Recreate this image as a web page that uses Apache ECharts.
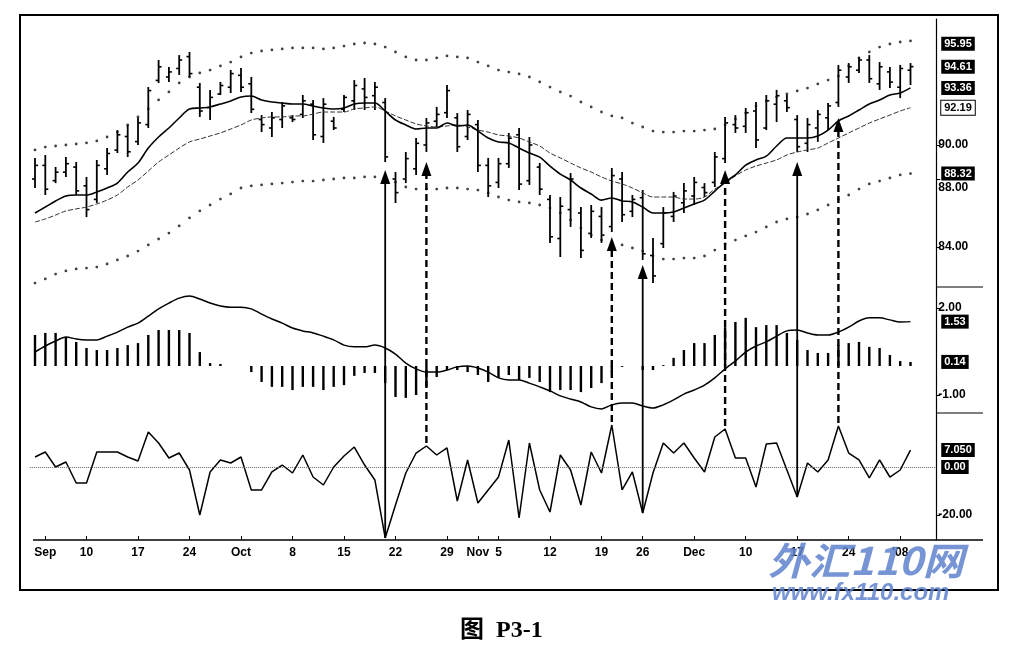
<!DOCTYPE html>
<html><head><meta charset="utf-8">
<script src="https://cdn.jsdelivr.net/npm/echarts@6/dist/echarts.min.js"></script>
<style>html,body{margin:0;padding:0;background:#fff}#c{width:1013px;height:656px}</style>
</head><body><div id="c"></div>
<script>
// trading days (Aug 31 2007 .. Jan 7 2008); last two have no data
const dates = ['8/31','9/4','9/5','9/6','9/7','9/10','9/11','9/12','9/13','9/14','9/17','9/18','9/19','9/20','9/21',
'9/24','9/25','9/26','9/27','9/28','10/1','10/2','10/3','10/4','10/5','10/8','10/9','10/10','10/11','10/12',
'10/15','10/16','10/17','10/18','10/19','10/22','10/23','10/24','10/25','10/26','10/29','10/30','10/31','11/1','11/2',
'11/5','11/6','11/7','11/8','11/9','11/12','11/13','11/14','11/15','11/16','11/19','11/20','11/21','11/23',
'11/26','11/27','11/28','11/29','11/30','12/3','12/4','12/5','12/6','12/7','12/10','12/11','12/12','12/13','12/14',
'12/17','12/18','12/19','12/20','12/21','12/24','12/26','12/27','12/28','12/31','1/2','1/3','1/4','1/7'];
const tickIdx = [1,5,10,15,20,25,30,35,40,43,45,50,55,59,64,69,74,79,84];
const tickText = ['Sep','10','17','24','Oct','8','15','22','29','Nov','5','12','19','26','Dec','10','17','24',"'08"];

const barOpen = [88.0,88.8,87.9,88.4,88.7,87.6,86.8,88.6,89.7,90.5,90.2,91.2,93.8,94.0,94.5,95.2,93.4,92.2,93.0,93.4,94.1,93.6,91.5,91.0,91.5,91.6,91.8,92.4,90.5,91.4,92.1,92.6,93.3,92.9,92.5,88.0,88.0,88.6,90.0,91.4,91.9,91.6,90.5,91.2,88.8,87.8,88.9,90.6,87.9,88.7,86.8,84.5,86.2,86.0,84.8,85.8,85.2,88.0,86.1,86.9,83.5,84.2,85.8,86.6,87.0,87.5,87.8,89.2,91.2,91.1,92.0,91.0,92.4,92.6,91.5,90.1,91.0,91.6,92.5,94.0,94.4,95.0,93.6,94.3,93.4,94.4];
const barHigh = [89.24,89.41,88.71,89.29,89.00,88.12,89.12,89.82,90.88,91.18,91.59,93.41,95.00,94.59,95.29,95.47,93.65,93.24,93.71,94.41,94.53,94.00,91.76,91.94,92.53,91.76,92.94,92.65,92.76,91.65,92.94,93.82,93.94,93.71,92.76,88.41,89.59,90.41,91.59,92.24,93.53,91.88,92.06,91.47,89.24,89.24,90.71,91.00,90.47,88.94,87.06,86.94,88.35,86.35,86.47,86.35,88.65,88.41,87.06,87.35,84.53,86.35,87.24,87.76,88.12,87.76,89.59,91.65,91.76,92.18,92.53,92.94,93.24,92.94,91.76,91.59,92.06,92.47,94.71,94.82,95.18,95.29,94.88,94.59,94.71,94.82];
const barLow = [87.47,87.06,87.76,88.12,87.06,85.76,86.59,88.24,89.53,89.29,90.00,91.00,93.65,93.71,94.12,94.00,91.65,91.47,92.94,93.06,93.12,91.88,90.76,90.47,91.00,91.35,91.59,90.29,90.12,90.88,91.94,92.06,92.06,92.06,89.00,86.59,87.76,88.24,89.59,91.06,91.59,89.59,90.29,88.41,86.94,87.47,88.65,87.35,87.65,87.06,84.24,83.41,85.18,83.35,84.53,84.24,84.88,85.47,85.76,83.24,81.88,83.94,85.47,86.00,86.47,86.94,87.53,88.94,90.71,90.71,89.82,90.88,91.35,91.94,89.59,89.59,90.18,90.88,92.24,93.65,94.24,93.65,93.24,93.35,92.76,93.53];
const barClose = [88.8,87.4,88.4,88.9,87.3,86.2,88.8,89.5,90.6,89.6,91.3,93.2,94.6,94.3,95.0,94.2,92.0,92.8,93.5,94.2,93.4,92.1,91.2,91.6,92.3,91.5,92.6,90.6,92.4,91.0,92.8,93.5,92.8,93.4,89.3,87.2,89.2,90.1,91.3,91.8,93.2,89.9,91.8,88.8,87.6,88.9,90.4,87.7,90.0,87.4,84.6,86.4,88.0,83.8,86.1,84.7,88.2,85.9,86.8,83.6,82.3,86.0,87.0,87.3,87.8,87.2,89.3,91.3,91.0,91.9,90.3,92.6,92.9,92.2,89.9,91.2,91.8,92.3,94.4,94.6,95.0,93.9,94.6,93.7,94.5,94.61];
const maFast = [86.00,86.35,86.71,87.00,87.06,87.06,87.24,87.47,87.76,88.41,88.94,89.82,90.47,91.00,91.59,92.12,92.18,92.24,92.41,92.59,92.82,92.88,92.65,92.53,92.47,92.41,92.41,92.29,92.18,92.12,92.18,92.41,92.47,92.47,92.00,91.47,91.18,90.94,91.00,91.00,91.29,91.12,91.18,90.82,90.41,90.18,90.12,89.82,89.53,89.29,88.76,88.29,87.94,87.47,87.12,86.76,86.88,86.71,86.65,86.35,86.00,86.00,86.06,86.29,86.53,86.76,87.29,87.82,88.24,88.82,89.12,89.35,89.94,90.41,90.41,90.41,90.53,90.88,91.41,91.71,92.06,92.41,92.65,92.94,93.06,93.36];
const maSlow = [85.47,85.65,85.88,86.12,86.24,86.35,86.53,86.76,87.06,87.53,87.94,88.47,89.00,89.41,89.82,90.18,90.35,90.53,90.71,90.94,91.18,91.47,91.59,91.65,91.65,91.71,91.71,91.82,91.94,91.94,91.94,92.12,92.18,92.24,92.00,91.71,91.47,91.24,91.12,91.06,91.12,91.18,91.06,90.88,90.76,90.59,90.53,90.41,90.18,89.94,89.53,89.24,88.94,88.65,88.41,88.12,87.88,87.71,87.47,87.18,86.94,86.94,86.94,86.82,86.82,86.94,87.41,87.76,88.18,88.53,88.76,88.94,89.12,89.41,89.59,89.71,89.82,90.12,90.41,90.71,91.00,91.29,91.53,91.76,92.00,92.19];
const envUpper = [89.71,89.88,89.94,90.00,90.06,90.12,90.24,90.47,90.76,91.18,91.65,92.12,92.65,93.12,93.65,94.00,94.24,94.41,94.65,94.88,95.18,95.41,95.53,95.59,95.65,95.71,95.71,95.71,95.65,95.71,95.82,95.94,96.00,95.94,95.76,95.47,95.18,95.00,95.00,95.12,95.24,95.18,95.12,94.88,94.65,94.41,94.29,94.18,94.00,93.71,93.41,93.12,92.88,92.53,92.24,91.94,91.71,91.59,91.29,91.06,90.82,90.76,90.76,90.82,90.82,90.88,90.94,91.18,91.53,91.88,92.29,92.59,92.82,93.00,93.18,93.35,93.59,93.82,94.06,94.65,95.12,95.47,95.76,95.94,96.06,96.12];
const envLower = [81.88,82.12,82.41,82.59,82.71,82.76,82.82,83.00,83.24,83.47,83.76,84.12,84.47,84.82,85.24,85.71,86.12,86.47,86.82,87.12,87.47,87.59,87.65,87.71,87.76,87.82,87.88,87.88,87.94,88.00,88.06,88.06,88.12,88.12,88.06,87.82,87.53,87.41,87.41,87.41,87.47,87.47,87.41,87.35,87.18,86.94,86.76,86.65,86.59,86.47,86.29,86.00,85.59,85.12,84.71,84.41,84.18,84.12,83.94,83.76,83.47,83.29,83.29,83.35,83.35,83.47,83.82,84.18,84.41,84.65,84.88,85.18,85.47,85.65,85.76,85.94,86.18,86.47,86.82,87.06,87.41,87.71,87.88,88.06,88.24,88.32];
const macdLine = [0.48,0.69,0.86,1.00,0.93,0.90,0.90,1.03,1.17,1.34,1.48,1.72,1.97,2.17,2.34,2.41,2.31,2.17,2.07,2.03,2.03,1.97,1.79,1.62,1.48,1.31,1.21,1.14,1.03,0.90,0.72,0.66,0.66,0.72,0.62,0.41,0.10,-0.10,-0.21,-0.21,-0.14,-0.03,0.00,-0.07,-0.21,-0.41,-0.48,-0.48,-0.59,-0.72,-0.86,-1.03,-1.14,-1.24,-1.41,-1.48,-1.34,-1.28,-1.28,-1.38,-1.45,-1.34,-1.17,-0.97,-0.83,-0.66,-0.41,-0.10,0.17,0.48,0.69,0.83,1.03,1.21,1.24,1.14,1.07,1.07,1.17,1.34,1.55,1.66,1.66,1.59,1.52,1.53];
const macdHist = [1.07,1.14,1.14,1.00,0.83,0.62,0.55,0.55,0.62,0.72,0.79,1.07,1.24,1.24,1.24,1.14,0.48,0.10,0.07,0.00,0.00,-0.21,-0.55,-0.72,-0.72,-0.83,-0.72,-0.72,-0.83,-0.72,-0.66,-0.34,-0.24,-0.24,-0.59,-1.07,-1.10,-1.00,-0.72,-0.38,-0.14,-0.14,-0.21,-0.31,-0.55,-0.41,-0.31,-0.48,-0.41,-0.55,-0.90,-0.83,-0.83,-0.90,-0.76,-0.59,-0.21,-0.03,0.00,-0.14,-0.14,0.03,0.28,0.55,0.79,0.79,1.07,1.34,1.52,1.66,1.34,1.41,1.41,1.14,0.90,0.55,0.45,0.45,0.72,0.79,0.83,0.66,0.62,0.38,0.17,0.14];
const oscVals = [4.17,6.25,0.00,2.08,-6.67,-6.67,6.25,6.25,6.25,4.17,2.50,14.58,10.00,3.75,5.83,-1.25,-20.00,-2.08,2.92,1.67,4.17,-9.58,-9.58,-2.08,0.83,-2.50,5.00,-4.17,-7.50,0.00,4.58,8.33,0.83,-5.42,-29.58,-15.83,-2.50,5.83,8.75,5.00,7.92,-14.17,2.92,-15.00,-9.58,-4.17,11.25,-21.25,10.00,-9.58,-18.75,5.00,-1.25,-15.83,6.25,-2.50,17.50,-9.58,-2.08,-19.17,-2.50,10.00,5.83,10.00,3.75,-2.08,12.50,15.83,3.75,3.75,-8.33,9.58,10.00,-1.25,-12.50,1.67,-2.08,2.92,17.08,5.83,2.92,-4.58,2.92,-4.17,-1.25,7.05];
const priceTicks = [90, 88, 84];
const macdTicks = [2, -1];
const oscTicks = [-20];
const priceBoxVals = [95.95, 94.61, 93.36, 92.19, 88.32];
const macdBoxVals = [1.53, 0.14];
const oscBoxVals = [7.05, 0];
const oscBoxText = ['7.050', '0.00'];
const arrowIdx = [34, 38, 56, 59, 67, 74, 78];
const arrowTip = [88.53, 89.0, 84.59, 82.94, 88.53, 89.0, 91.59];
const arrowDashed = [false, true, true, false, true, false, true];

const FONT = 'Liberation Sans';
const chart = echarts.init(document.getElementById('c'), null, {renderer: 'canvas'});
const ohlc = barOpen.map((o, i) => [i, o, barHigh[i], barLow[i], barClose[i]]);

function xAx(g, show) {
  const set = new Set(tickIdx);
  return {
    type: 'category', gridIndex: g, data: dates, boundaryGap: true,
    axisLine: {show: false, onZero: false},
    axisTick: show ? {show: true, inside: true, length: 4, alignWithLabel: true,
      interval: (i) => set.has(i), lineStyle: {color: '#000'}} : {show: false},
    axisLabel: show ? {show: true, interval: (i) => set.has(i), margin: 7,
      formatter: (v, i) => tickText[tickIdx.indexOf(i)] || '',
      color: '#000', fontWeight: 'bold', fontSize: 12, fontFamily: FONT} : {show: false},
    splitLine: {show: false}
  };
}
function yAx(g, min, max, vals, lowered) {
  return {
    type: 'value', gridIndex: g, position: 'right', min: min, max: max, scale: true,
    splitLine: {show: false},
    axisLine: {show: true, lineStyle: {color: '#000', width: 1.2}},
    axisTick: {show: true, customValues: vals, length: 4, inside: false, lineStyle: {color: '#000'}},
    axisLabel: {show: true, customValues: vals, margin: 2,
      formatter: (v) => (lowered !== undefined && Number(v) === lowered) ? '{lo|' + Number(v).toFixed(2) + '}' : Number(v).toFixed(2),
      rich: {lo: {padding: [18, 0, 0, 0], color: '#000', fontWeight: 'bold', fontSize: 12, fontFamily: FONT}},
      color: '#000', fontWeight: 'bold', fontSize: 12, fontFamily: FONT}
  };
}
function boxLabels(vals, texts, extra) {
  return {
    silent: true, symbol: ['none', 'none'], animation: false,
    lineStyle: {color: 'rgba(0,0,0,0)', width: 0.5, type: 'solid'},
    label: {show: true, position: 'end', distance: 5, color: '#fff', backgroundColor: '#000',
      fontWeight: 'bold', fontSize: 11, fontFamily: FONT, padding: [2, 3, 1, 3]},
    data: vals.map((v, k) => Object.assign({yAxis: v, label: {formatter: texts[k]}}, (extra && extra[k]) || {}))
  };
}

const left = 29.85, w = 906.4;
const option = {
  animation: false,
  backgroundColor: '#fff',
  grid: [
    {left: left, width: w, top: 19.2, height: 267.75, outerBoundsMode: 'none'},
    {left: left, width: w, top: 287, height: 126, outerBoundsMode: 'none'},
    {left: left, width: w, top: 413, height: 127, outerBoundsMode: 'none'}
  ],
  xAxis: [xAx(0, false), xAx(1, false), xAx(2, true)],
  yAxis: [yAx(0, 81.65, 97.4, priceTicks, 88), yAx(1, -1.621, 2.724, macdTicks), yAx(2, -30.417, 22.5, oscTicks)],
  series: [
    {type: 'scatter', xAxisIndex: 0, yAxisIndex: 0, data: envUpper, symbolSize: 2.8, itemStyle: {color: '#111'}, silent: true},
    {type: 'scatter', xAxisIndex: 0, yAxisIndex: 0, data: envLower, symbolSize: 2.8, itemStyle: {color: '#111'}, silent: true},
    {type: 'line', xAxisIndex: 0, yAxisIndex: 0, data: maSlow, showSymbol: false, smooth: 0.3,
      lineStyle: {color: '#333', width: 1, type: [5, 2]}},
    {type: 'line', xAxisIndex: 0, yAxisIndex: 0, data: maFast, showSymbol: false, smooth: 0.3,
      lineStyle: {color: '#000', width: 1.6},
      markLine: boxLabels(priceBoxVals, priceBoxVals.map(v => v.toFixed(2)),
        [null, null, null, {label: {formatter: '92.19', color: '#000', backgroundColor: '#fff', borderColor: '#000', borderWidth: 1}}, null])},
    {type: 'custom', xAxisIndex: 0, yAxisIndex: 0, data: ohlc, encode: {x: 0, y: [1, 2, 3, 4]},
      renderItem: function (params, api) {
        const xi = api.value(0);
        const o = api.coord([xi, api.value(1)]);
        const h = api.coord([xi, api.value(2)]);
        const l = api.coord([xi, api.value(3)]);
        const c = api.coord([xi, api.value(4)]);
        const st = {stroke: '#000', lineWidth: 1.8};
        return {type: 'group', children: [
          {type: 'line', shape: {x1: h[0], y1: h[1], x2: l[0], y2: l[1]}, style: st},
          {type: 'line', shape: {x1: o[0] - 3, y1: o[1], x2: o[0], y2: o[1]}, style: {stroke: '#000', lineWidth: 1.6}},
          {type: 'line', shape: {x1: c[0], y1: c[1], x2: c[0] + 3, y2: c[1]}, style: {stroke: '#000', lineWidth: 1.6}}
        ]};
      }},
    {type: 'bar', xAxisIndex: 1, yAxisIndex: 1, data: macdHist, barWidth: 2.4, itemStyle: {color: '#000'}, silent: true},
    {type: 'line', xAxisIndex: 1, yAxisIndex: 1, data: macdLine, showSymbol: false, smooth: 0.3,
      lineStyle: {color: '#000', width: 1.5},
      markLine: boxLabels(macdBoxVals, macdBoxVals.map(v => v.toFixed(2)))},
    {type: 'line', xAxisIndex: 2, yAxisIndex: 2, data: oscVals, showSymbol: false,
      lineStyle: {color: '#000', width: 1.5},
      markLine: boxLabels(oscBoxVals, oscBoxText,
        [null, {lineStyle: {color: '#666', type: 'dotted', width: 1}}])}
  ],
  graphic: [
    {type: 'rect', id: 'frame', shape: {x: 20, y: 15, width: 978, height: 575},
      style: {fill: 'none', stroke: '#000', lineWidth: 2}, z: 50},
    {type: 'line', id: 'xline', shape: {x1: 33, y1: 540, x2: 983, y2: 540}, style: {stroke: '#000', lineWidth: 1.5}, z: 50},
    {type: 'line', id: 'sep1', shape: {x1: 936, y1: 287, x2: 983, y2: 287}, style: {stroke: '#000', lineWidth: 1.2}, z: 50},
    {type: 'line', id: 'sep2', shape: {x1: 936, y1: 413, x2: 983, y2: 413}, style: {stroke: '#000', lineWidth: 1.2}, z: 50},
    {type: 'text', id: 'wm1', x: 768, y: 542, scaleX: 1.08, z: 60,
      style: {text: '外汇110网', fill: 'rgba(95,130,205,0.85)', font: 'italic bold 38px "Noto Sans CJK SC"'}},
    {type: 'text', id: 'wm2', x: 772, y: 581, z: 60,
      style: {text: 'www.fx110.com', fill: 'rgba(95,130,205,0.85)', font: 'italic bold 24px "Liberation Sans"'}},
    {type: 'text', id: 'cap', x: 460, y: 619, z: 60,
      style: {text: '图  P3-1', fill: '#000', font: 'bold 24px "Liberation Serif", "Noto Sans CJK SC"'}}
  ]
};
chart.setOption(option);

const arrowEls = [];
arrowIdx.forEach((ix, k) => {
  const p0 = chart.convertToPixel({gridIndex: 2}, [ix, oscVals[ix]]);
  const p1 = chart.convertToPixel({gridIndex: 0}, [ix, arrowTip[k]]);
  const x = p1[0], hl = 14, hw = 5;
  const dashed = arrowDashed[k];
  arrowEls.push({type: 'line', id: 'arL' + k, z: 70,
    shape: {x1: x, y1: p0[1] - (dashed ? 3 : 0), x2: x, y2: p1[1] + hl - 2},
    style: {stroke: '#000', lineWidth: dashed ? 2.4 : 1.8, lineDash: dashed ? [7, 4] : null}});
  arrowEls.push({type: 'polygon', id: 'arH' + k, z: 70,
    shape: {points: [[x, p1[1]], [x - hw, p1[1] + hl], [x + hw, p1[1] + hl]]},
    style: {fill: '#000'}});
});
chart.setOption({graphic: arrowEls});
</script>
</body></html>
